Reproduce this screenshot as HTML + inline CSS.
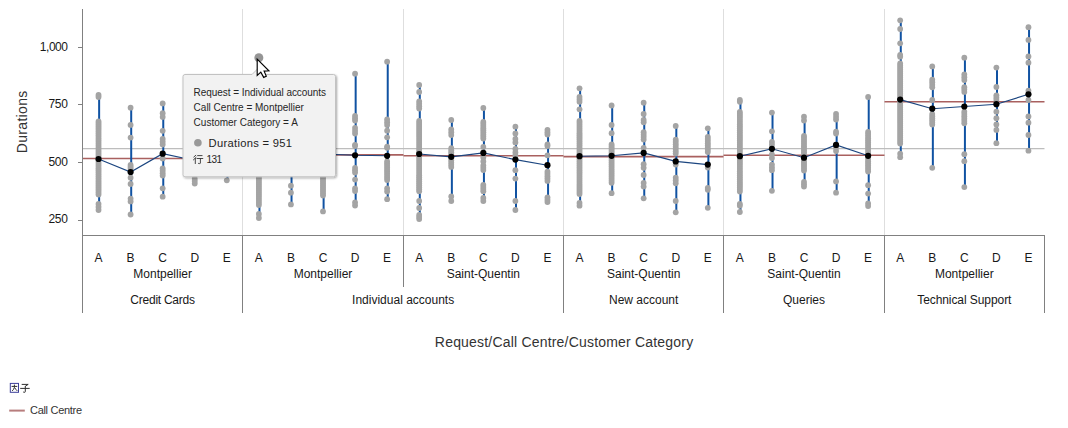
<!DOCTYPE html>
<html><head><meta charset="utf-8"><style>
html,body{margin:0;padding:0;background:#fff;}
body{width:1068px;height:428px;overflow:hidden;position:relative;font-family:"Liberation Sans",sans-serif;}
svg{position:absolute;left:0;top:0;}
.t12{font-family:"Liberation Sans",sans-serif;font-size:12px;fill:#181818;}
.t14{font-family:"Liberation Sans",sans-serif;font-size:14px;fill:#333;}
.t12b{font-family:"Liberation Sans",sans-serif;font-size:11.2px;fill:#222;}
.t11{font-family:"Liberation Sans",sans-serif;font-size:11px;fill:#333;}
.t10{font-family:"Liberation Sans",sans-serif;font-size:10px;fill:#262626;}
</style></head><body>
<svg width="1068" height="428" viewBox="0 0 1068 428">
<line x1="242.5" y1="9" x2="242.5" y2="235" stroke="#dedede" stroke-width="1"/>
<line x1="403.5" y1="9" x2="403.5" y2="235" stroke="#dedede" stroke-width="1"/>
<line x1="563.5" y1="9" x2="563.5" y2="235" stroke="#dedede" stroke-width="1"/>
<line x1="723.5" y1="9" x2="723.5" y2="235" stroke="#dedede" stroke-width="1"/>
<line x1="884.5" y1="9" x2="884.5" y2="235" stroke="#dedede" stroke-width="1"/>
<line x1="82.5" y1="148.6" x2="1044.48" y2="148.6" stroke="#bdbdbd" stroke-width="1.3"/>
<line x1="82.5" y1="158.5" x2="242.5" y2="158.5" stroke="#a9605f" stroke-width="1.6"/>
<line x1="242.5" y1="154.9" x2="403.5" y2="154.9" stroke="#a9605f" stroke-width="1.6"/>
<line x1="403.5" y1="155.8" x2="563.5" y2="155.8" stroke="#a9605f" stroke-width="1.6"/>
<line x1="563.5" y1="156.6" x2="723.5" y2="156.6" stroke="#a9605f" stroke-width="1.6"/>
<line x1="723.5" y1="155.3" x2="884.5" y2="155.3" stroke="#a9605f" stroke-width="1.6"/>
<line x1="884.5" y1="101.8" x2="1044.5" y2="101.8" stroke="#a9605f" stroke-width="1.6"/>
<line x1="99.13" y1="95.0" x2="99.13" y2="210.0" stroke="#1052a2" stroke-width="2"/>
<circle cx="98.53" cy="95.0" r="2.9" fill="#a4a4a4"/>
<circle cx="98.53" cy="97.0" r="2.9" fill="#a4a4a4"/>
<circle cx="98.53" cy="121.4" r="2.9" fill="#a4a4a4"/>
<circle cx="98.53" cy="123.4" r="2.9" fill="#a4a4a4"/>
<circle cx="98.53" cy="125.5" r="2.9" fill="#a4a4a4"/>
<circle cx="98.53" cy="127.5" r="2.9" fill="#a4a4a4"/>
<circle cx="98.53" cy="129.5" r="2.9" fill="#a4a4a4"/>
<circle cx="98.53" cy="131.6" r="2.9" fill="#a4a4a4"/>
<circle cx="98.53" cy="133.6" r="2.9" fill="#a4a4a4"/>
<circle cx="98.53" cy="135.6" r="2.9" fill="#a4a4a4"/>
<circle cx="98.53" cy="137.7" r="2.9" fill="#a4a4a4"/>
<circle cx="98.53" cy="139.7" r="2.9" fill="#a4a4a4"/>
<circle cx="98.53" cy="141.7" r="2.9" fill="#a4a4a4"/>
<circle cx="98.53" cy="143.8" r="2.9" fill="#a4a4a4"/>
<circle cx="98.53" cy="145.8" r="2.9" fill="#a4a4a4"/>
<circle cx="98.53" cy="147.8" r="2.9" fill="#a4a4a4"/>
<circle cx="98.53" cy="149.9" r="2.9" fill="#a4a4a4"/>
<circle cx="98.53" cy="151.9" r="2.9" fill="#a4a4a4"/>
<circle cx="98.53" cy="153.9" r="2.9" fill="#a4a4a4"/>
<circle cx="98.53" cy="156.0" r="2.9" fill="#a4a4a4"/>
<circle cx="98.53" cy="158.0" r="2.9" fill="#a4a4a4"/>
<circle cx="98.53" cy="160.0" r="2.9" fill="#a4a4a4"/>
<circle cx="98.53" cy="162.1" r="2.9" fill="#a4a4a4"/>
<circle cx="98.53" cy="164.1" r="2.9" fill="#a4a4a4"/>
<circle cx="98.53" cy="166.1" r="2.9" fill="#a4a4a4"/>
<circle cx="98.53" cy="168.2" r="2.9" fill="#a4a4a4"/>
<circle cx="98.53" cy="170.2" r="2.9" fill="#a4a4a4"/>
<circle cx="98.53" cy="172.2" r="2.9" fill="#a4a4a4"/>
<circle cx="98.53" cy="174.3" r="2.9" fill="#a4a4a4"/>
<circle cx="98.53" cy="176.3" r="2.9" fill="#a4a4a4"/>
<circle cx="98.53" cy="178.3" r="2.9" fill="#a4a4a4"/>
<circle cx="98.53" cy="180.4" r="2.9" fill="#a4a4a4"/>
<circle cx="98.53" cy="182.4" r="2.9" fill="#a4a4a4"/>
<circle cx="98.53" cy="184.4" r="2.9" fill="#a4a4a4"/>
<circle cx="98.53" cy="186.5" r="2.9" fill="#a4a4a4"/>
<circle cx="98.53" cy="188.5" r="2.9" fill="#a4a4a4"/>
<circle cx="98.53" cy="190.5" r="2.9" fill="#a4a4a4"/>
<circle cx="98.53" cy="192.6" r="2.9" fill="#a4a4a4"/>
<circle cx="98.53" cy="194.6" r="2.9" fill="#a4a4a4"/>
<circle cx="98.53" cy="204.0" r="2.9" fill="#a4a4a4"/>
<circle cx="98.53" cy="207.0" r="2.9" fill="#a4a4a4"/>
<circle cx="98.53" cy="210.0" r="2.9" fill="#a4a4a4"/>
<line x1="131.20" y1="107.7" x2="131.20" y2="214.5" stroke="#1052a2" stroke-width="2"/>
<circle cx="130.60" cy="107.7" r="2.9" fill="#a4a4a4"/>
<circle cx="130.60" cy="124.9" r="2.9" fill="#a4a4a4"/>
<circle cx="130.60" cy="137.6" r="2.9" fill="#a4a4a4"/>
<circle cx="130.60" cy="165.0" r="2.9" fill="#a4a4a4"/>
<circle cx="130.60" cy="167.0" r="2.9" fill="#a4a4a4"/>
<circle cx="130.60" cy="169.0" r="2.9" fill="#a4a4a4"/>
<circle cx="130.60" cy="177.7" r="2.9" fill="#a4a4a4"/>
<circle cx="130.60" cy="184.0" r="2.9" fill="#a4a4a4"/>
<circle cx="130.60" cy="198.6" r="2.9" fill="#a4a4a4"/>
<circle cx="130.60" cy="201.4" r="2.9" fill="#a4a4a4"/>
<circle cx="130.60" cy="214.5" r="2.9" fill="#a4a4a4"/>
<line x1="163.27" y1="103.4" x2="163.27" y2="196.7" stroke="#1052a2" stroke-width="2"/>
<circle cx="162.67" cy="103.4" r="2.9" fill="#a4a4a4"/>
<circle cx="162.67" cy="113.2" r="2.9" fill="#a4a4a4"/>
<circle cx="162.67" cy="116.9" r="2.9" fill="#a4a4a4"/>
<circle cx="162.67" cy="130.8" r="2.9" fill="#a4a4a4"/>
<circle cx="162.67" cy="139.0" r="2.9" fill="#a4a4a4"/>
<circle cx="162.67" cy="141.8" r="2.9" fill="#a4a4a4"/>
<circle cx="162.67" cy="144.5" r="2.9" fill="#a4a4a4"/>
<circle cx="162.67" cy="158.4" r="2.9" fill="#a4a4a4"/>
<circle cx="162.67" cy="168.4" r="2.9" fill="#a4a4a4"/>
<circle cx="162.67" cy="170.8" r="2.9" fill="#a4a4a4"/>
<circle cx="162.67" cy="173.2" r="2.9" fill="#a4a4a4"/>
<circle cx="162.67" cy="175.6" r="2.9" fill="#a4a4a4"/>
<circle cx="162.67" cy="188.3" r="2.9" fill="#a4a4a4"/>
<circle cx="162.67" cy="196.7" r="2.9" fill="#a4a4a4"/>
<line x1="195.33" y1="122.4" x2="195.33" y2="183.6" stroke="#1052a2" stroke-width="2"/>
<circle cx="194.73" cy="122.4" r="2.9" fill="#a4a4a4"/>
<circle cx="194.73" cy="124.5" r="2.9" fill="#a4a4a4"/>
<circle cx="194.73" cy="126.6" r="2.9" fill="#a4a4a4"/>
<circle cx="194.73" cy="128.7" r="2.9" fill="#a4a4a4"/>
<circle cx="194.73" cy="130.8" r="2.9" fill="#a4a4a4"/>
<circle cx="194.73" cy="132.9" r="2.9" fill="#a4a4a4"/>
<circle cx="194.73" cy="135.0" r="2.9" fill="#a4a4a4"/>
<circle cx="194.73" cy="137.1" r="2.9" fill="#a4a4a4"/>
<circle cx="194.73" cy="139.2" r="2.9" fill="#a4a4a4"/>
<circle cx="194.73" cy="141.3" r="2.9" fill="#a4a4a4"/>
<circle cx="194.73" cy="143.4" r="2.9" fill="#a4a4a4"/>
<circle cx="194.73" cy="145.5" r="2.9" fill="#a4a4a4"/>
<circle cx="194.73" cy="147.6" r="2.9" fill="#a4a4a4"/>
<circle cx="194.73" cy="178.7" r="2.9" fill="#a4a4a4"/>
<circle cx="194.73" cy="181.1" r="2.9" fill="#a4a4a4"/>
<circle cx="194.73" cy="183.6" r="2.9" fill="#a4a4a4"/>
<line x1="227.40" y1="142.4" x2="227.40" y2="180.3" stroke="#1052a2" stroke-width="2"/>
<circle cx="226.80" cy="142.4" r="2.9" fill="#a4a4a4"/>
<circle cx="226.80" cy="144.5" r="2.9" fill="#a4a4a4"/>
<circle cx="226.80" cy="146.6" r="2.9" fill="#a4a4a4"/>
<circle cx="226.80" cy="148.7" r="2.9" fill="#a4a4a4"/>
<circle cx="226.80" cy="150.8" r="2.9" fill="#a4a4a4"/>
<circle cx="226.80" cy="152.9" r="2.9" fill="#a4a4a4"/>
<circle cx="226.80" cy="155.0" r="2.9" fill="#a4a4a4"/>
<circle cx="226.80" cy="157.1" r="2.9" fill="#a4a4a4"/>
<circle cx="226.80" cy="159.2" r="2.9" fill="#a4a4a4"/>
<circle cx="226.80" cy="161.3" r="2.9" fill="#a4a4a4"/>
<circle cx="226.80" cy="163.4" r="2.9" fill="#a4a4a4"/>
<circle cx="226.80" cy="165.5" r="2.9" fill="#a4a4a4"/>
<circle cx="226.80" cy="167.6" r="2.9" fill="#a4a4a4"/>
<circle cx="226.80" cy="180.3" r="2.9" fill="#a4a4a4"/>
<line x1="259.46" y1="102.4" x2="259.46" y2="218.0" stroke="#1052a2" stroke-width="2"/>
<circle cx="258.86" cy="102.4" r="2.9" fill="#a4a4a4"/>
<circle cx="258.86" cy="104.4" r="2.9" fill="#a4a4a4"/>
<circle cx="258.86" cy="106.4" r="2.9" fill="#a4a4a4"/>
<circle cx="258.86" cy="108.4" r="2.9" fill="#a4a4a4"/>
<circle cx="258.86" cy="110.5" r="2.9" fill="#a4a4a4"/>
<circle cx="258.86" cy="112.5" r="2.9" fill="#a4a4a4"/>
<circle cx="258.86" cy="114.5" r="2.9" fill="#a4a4a4"/>
<circle cx="258.86" cy="116.5" r="2.9" fill="#a4a4a4"/>
<circle cx="258.86" cy="118.5" r="2.9" fill="#a4a4a4"/>
<circle cx="258.86" cy="120.5" r="2.9" fill="#a4a4a4"/>
<circle cx="258.86" cy="122.5" r="2.9" fill="#a4a4a4"/>
<circle cx="258.86" cy="124.6" r="2.9" fill="#a4a4a4"/>
<circle cx="258.86" cy="126.6" r="2.9" fill="#a4a4a4"/>
<circle cx="258.86" cy="128.6" r="2.9" fill="#a4a4a4"/>
<circle cx="258.86" cy="130.6" r="2.9" fill="#a4a4a4"/>
<circle cx="258.86" cy="132.6" r="2.9" fill="#a4a4a4"/>
<circle cx="258.86" cy="134.6" r="2.9" fill="#a4a4a4"/>
<circle cx="258.86" cy="136.6" r="2.9" fill="#a4a4a4"/>
<circle cx="258.86" cy="138.6" r="2.9" fill="#a4a4a4"/>
<circle cx="258.86" cy="140.7" r="2.9" fill="#a4a4a4"/>
<circle cx="258.86" cy="142.7" r="2.9" fill="#a4a4a4"/>
<circle cx="258.86" cy="144.7" r="2.9" fill="#a4a4a4"/>
<circle cx="258.86" cy="146.7" r="2.9" fill="#a4a4a4"/>
<circle cx="258.86" cy="148.7" r="2.9" fill="#a4a4a4"/>
<circle cx="258.86" cy="150.7" r="2.9" fill="#a4a4a4"/>
<circle cx="258.86" cy="152.7" r="2.9" fill="#a4a4a4"/>
<circle cx="258.86" cy="154.8" r="2.9" fill="#a4a4a4"/>
<circle cx="258.86" cy="156.8" r="2.9" fill="#a4a4a4"/>
<circle cx="258.86" cy="158.8" r="2.9" fill="#a4a4a4"/>
<circle cx="258.86" cy="160.8" r="2.9" fill="#a4a4a4"/>
<circle cx="258.86" cy="162.8" r="2.9" fill="#a4a4a4"/>
<circle cx="258.86" cy="164.8" r="2.9" fill="#a4a4a4"/>
<circle cx="258.86" cy="166.8" r="2.9" fill="#a4a4a4"/>
<circle cx="258.86" cy="168.9" r="2.9" fill="#a4a4a4"/>
<circle cx="258.86" cy="170.9" r="2.9" fill="#a4a4a4"/>
<circle cx="258.86" cy="172.9" r="2.9" fill="#a4a4a4"/>
<circle cx="258.86" cy="174.9" r="2.9" fill="#a4a4a4"/>
<circle cx="258.86" cy="176.9" r="2.9" fill="#a4a4a4"/>
<circle cx="258.86" cy="178.9" r="2.9" fill="#a4a4a4"/>
<circle cx="258.86" cy="180.9" r="2.9" fill="#a4a4a4"/>
<circle cx="258.86" cy="182.9" r="2.9" fill="#a4a4a4"/>
<circle cx="258.86" cy="185.0" r="2.9" fill="#a4a4a4"/>
<circle cx="258.86" cy="187.0" r="2.9" fill="#a4a4a4"/>
<circle cx="258.86" cy="189.0" r="2.9" fill="#a4a4a4"/>
<circle cx="258.86" cy="191.0" r="2.9" fill="#a4a4a4"/>
<circle cx="258.86" cy="193.0" r="2.9" fill="#a4a4a4"/>
<circle cx="258.86" cy="195.0" r="2.9" fill="#a4a4a4"/>
<circle cx="258.86" cy="197.0" r="2.9" fill="#a4a4a4"/>
<circle cx="258.86" cy="199.1" r="2.9" fill="#a4a4a4"/>
<circle cx="258.86" cy="201.1" r="2.9" fill="#a4a4a4"/>
<circle cx="258.86" cy="203.1" r="2.9" fill="#a4a4a4"/>
<circle cx="258.86" cy="205.1" r="2.9" fill="#a4a4a4"/>
<circle cx="258.86" cy="214.0" r="2.9" fill="#a4a4a4"/>
<circle cx="258.86" cy="218.0" r="2.9" fill="#a4a4a4"/>
<line x1="291.53" y1="122.4" x2="291.53" y2="204.4" stroke="#1052a2" stroke-width="2"/>
<circle cx="290.93" cy="122.4" r="2.9" fill="#a4a4a4"/>
<circle cx="290.93" cy="124.5" r="2.9" fill="#a4a4a4"/>
<circle cx="290.93" cy="126.5" r="2.9" fill="#a4a4a4"/>
<circle cx="290.93" cy="128.6" r="2.9" fill="#a4a4a4"/>
<circle cx="290.93" cy="130.6" r="2.9" fill="#a4a4a4"/>
<circle cx="290.93" cy="132.7" r="2.9" fill="#a4a4a4"/>
<circle cx="290.93" cy="134.7" r="2.9" fill="#a4a4a4"/>
<circle cx="290.93" cy="136.8" r="2.9" fill="#a4a4a4"/>
<circle cx="290.93" cy="138.8" r="2.9" fill="#a4a4a4"/>
<circle cx="290.93" cy="140.9" r="2.9" fill="#a4a4a4"/>
<circle cx="290.93" cy="142.9" r="2.9" fill="#a4a4a4"/>
<circle cx="290.93" cy="145.0" r="2.9" fill="#a4a4a4"/>
<circle cx="290.93" cy="147.1" r="2.9" fill="#a4a4a4"/>
<circle cx="290.93" cy="149.1" r="2.9" fill="#a4a4a4"/>
<circle cx="290.93" cy="151.2" r="2.9" fill="#a4a4a4"/>
<circle cx="290.93" cy="153.2" r="2.9" fill="#a4a4a4"/>
<circle cx="290.93" cy="155.3" r="2.9" fill="#a4a4a4"/>
<circle cx="290.93" cy="157.3" r="2.9" fill="#a4a4a4"/>
<circle cx="290.93" cy="159.4" r="2.9" fill="#a4a4a4"/>
<circle cx="290.93" cy="161.4" r="2.9" fill="#a4a4a4"/>
<circle cx="290.93" cy="163.5" r="2.9" fill="#a4a4a4"/>
<circle cx="290.93" cy="165.5" r="2.9" fill="#a4a4a4"/>
<circle cx="290.93" cy="167.6" r="2.9" fill="#a4a4a4"/>
<circle cx="290.93" cy="185.7" r="2.9" fill="#a4a4a4"/>
<circle cx="290.93" cy="192.7" r="2.9" fill="#a4a4a4"/>
<circle cx="290.93" cy="204.4" r="2.9" fill="#a4a4a4"/>
<line x1="323.60" y1="112.4" x2="323.60" y2="211.4" stroke="#1052a2" stroke-width="2"/>
<circle cx="323.00" cy="112.4" r="2.9" fill="#a4a4a4"/>
<circle cx="323.00" cy="114.4" r="2.9" fill="#a4a4a4"/>
<circle cx="323.00" cy="116.5" r="2.9" fill="#a4a4a4"/>
<circle cx="323.00" cy="118.5" r="2.9" fill="#a4a4a4"/>
<circle cx="323.00" cy="120.5" r="2.9" fill="#a4a4a4"/>
<circle cx="323.00" cy="122.5" r="2.9" fill="#a4a4a4"/>
<circle cx="323.00" cy="124.6" r="2.9" fill="#a4a4a4"/>
<circle cx="323.00" cy="126.6" r="2.9" fill="#a4a4a4"/>
<circle cx="323.00" cy="128.6" r="2.9" fill="#a4a4a4"/>
<circle cx="323.00" cy="130.7" r="2.9" fill="#a4a4a4"/>
<circle cx="323.00" cy="132.7" r="2.9" fill="#a4a4a4"/>
<circle cx="323.00" cy="134.7" r="2.9" fill="#a4a4a4"/>
<circle cx="323.00" cy="136.8" r="2.9" fill="#a4a4a4"/>
<circle cx="323.00" cy="138.8" r="2.9" fill="#a4a4a4"/>
<circle cx="323.00" cy="140.8" r="2.9" fill="#a4a4a4"/>
<circle cx="323.00" cy="142.8" r="2.9" fill="#a4a4a4"/>
<circle cx="323.00" cy="144.9" r="2.9" fill="#a4a4a4"/>
<circle cx="323.00" cy="146.9" r="2.9" fill="#a4a4a4"/>
<circle cx="323.00" cy="148.9" r="2.9" fill="#a4a4a4"/>
<circle cx="323.00" cy="151.0" r="2.9" fill="#a4a4a4"/>
<circle cx="323.00" cy="153.0" r="2.9" fill="#a4a4a4"/>
<circle cx="323.00" cy="155.0" r="2.9" fill="#a4a4a4"/>
<circle cx="323.00" cy="157.0" r="2.9" fill="#a4a4a4"/>
<circle cx="323.00" cy="159.1" r="2.9" fill="#a4a4a4"/>
<circle cx="323.00" cy="161.1" r="2.9" fill="#a4a4a4"/>
<circle cx="323.00" cy="163.1" r="2.9" fill="#a4a4a4"/>
<circle cx="323.00" cy="165.2" r="2.9" fill="#a4a4a4"/>
<circle cx="323.00" cy="167.2" r="2.9" fill="#a4a4a4"/>
<circle cx="323.00" cy="169.2" r="2.9" fill="#a4a4a4"/>
<circle cx="323.00" cy="171.2" r="2.9" fill="#a4a4a4"/>
<circle cx="323.00" cy="173.3" r="2.9" fill="#a4a4a4"/>
<circle cx="323.00" cy="175.3" r="2.9" fill="#a4a4a4"/>
<circle cx="323.00" cy="177.3" r="2.9" fill="#a4a4a4"/>
<circle cx="323.00" cy="179.4" r="2.9" fill="#a4a4a4"/>
<circle cx="323.00" cy="181.4" r="2.9" fill="#a4a4a4"/>
<circle cx="323.00" cy="183.4" r="2.9" fill="#a4a4a4"/>
<circle cx="323.00" cy="185.5" r="2.9" fill="#a4a4a4"/>
<circle cx="323.00" cy="187.5" r="2.9" fill="#a4a4a4"/>
<circle cx="323.00" cy="189.5" r="2.9" fill="#a4a4a4"/>
<circle cx="323.00" cy="191.5" r="2.9" fill="#a4a4a4"/>
<circle cx="323.00" cy="193.6" r="2.9" fill="#a4a4a4"/>
<circle cx="323.00" cy="195.6" r="2.9" fill="#a4a4a4"/>
<circle cx="323.00" cy="211.4" r="2.9" fill="#a4a4a4"/>
<line x1="355.66" y1="73.7" x2="355.66" y2="205.5" stroke="#1052a2" stroke-width="2"/>
<circle cx="355.06" cy="73.7" r="2.9" fill="#a4a4a4"/>
<circle cx="355.06" cy="115.8" r="2.9" fill="#a4a4a4"/>
<circle cx="355.06" cy="118.2" r="2.9" fill="#a4a4a4"/>
<circle cx="355.06" cy="120.5" r="2.9" fill="#a4a4a4"/>
<circle cx="355.06" cy="128.0" r="2.9" fill="#a4a4a4"/>
<circle cx="355.06" cy="130.8" r="2.9" fill="#a4a4a4"/>
<circle cx="355.06" cy="133.5" r="2.9" fill="#a4a4a4"/>
<circle cx="355.06" cy="144.8" r="2.9" fill="#a4a4a4"/>
<circle cx="355.06" cy="146.0" r="2.9" fill="#a4a4a4"/>
<circle cx="355.06" cy="168.0" r="2.9" fill="#a4a4a4"/>
<circle cx="355.06" cy="170.3" r="2.9" fill="#a4a4a4"/>
<circle cx="355.06" cy="172.6" r="2.9" fill="#a4a4a4"/>
<circle cx="355.06" cy="179.6" r="2.9" fill="#a4a4a4"/>
<circle cx="355.06" cy="188.5" r="2.9" fill="#a4a4a4"/>
<circle cx="355.06" cy="191.0" r="2.9" fill="#a4a4a4"/>
<circle cx="355.06" cy="202.5" r="2.9" fill="#a4a4a4"/>
<circle cx="355.06" cy="205.5" r="2.9" fill="#a4a4a4"/>
<line x1="387.73" y1="61.7" x2="387.73" y2="199.2" stroke="#1052a2" stroke-width="2"/>
<circle cx="387.13" cy="61.7" r="2.9" fill="#a4a4a4"/>
<circle cx="387.13" cy="119.5" r="2.9" fill="#a4a4a4"/>
<circle cx="387.13" cy="122.2" r="2.9" fill="#a4a4a4"/>
<circle cx="387.13" cy="125.0" r="2.9" fill="#a4a4a4"/>
<circle cx="387.13" cy="130.7" r="2.9" fill="#a4a4a4"/>
<circle cx="387.13" cy="137.3" r="2.9" fill="#a4a4a4"/>
<circle cx="387.13" cy="146.6" r="2.9" fill="#a4a4a4"/>
<circle cx="387.13" cy="147.8" r="2.9" fill="#a4a4a4"/>
<circle cx="387.13" cy="161.4" r="2.9" fill="#a4a4a4"/>
<circle cx="387.13" cy="163.5" r="2.9" fill="#a4a4a4"/>
<circle cx="387.13" cy="165.5" r="2.9" fill="#a4a4a4"/>
<circle cx="387.13" cy="167.6" r="2.9" fill="#a4a4a4"/>
<circle cx="387.13" cy="169.7" r="2.9" fill="#a4a4a4"/>
<circle cx="387.13" cy="171.7" r="2.9" fill="#a4a4a4"/>
<circle cx="387.13" cy="173.8" r="2.9" fill="#a4a4a4"/>
<circle cx="387.13" cy="175.9" r="2.9" fill="#a4a4a4"/>
<circle cx="387.13" cy="177.9" r="2.9" fill="#a4a4a4"/>
<circle cx="387.13" cy="180.0" r="2.9" fill="#a4a4a4"/>
<circle cx="387.13" cy="188.5" r="2.9" fill="#a4a4a4"/>
<circle cx="387.13" cy="191.5" r="2.9" fill="#a4a4a4"/>
<circle cx="387.13" cy="199.2" r="2.9" fill="#a4a4a4"/>
<line x1="419.79" y1="85.0" x2="419.79" y2="219.0" stroke="#1052a2" stroke-width="2"/>
<circle cx="419.19" cy="85.0" r="2.9" fill="#a4a4a4"/>
<circle cx="419.19" cy="92.0" r="2.9" fill="#a4a4a4"/>
<circle cx="419.19" cy="101.4" r="2.9" fill="#a4a4a4"/>
<circle cx="419.19" cy="103.8" r="2.9" fill="#a4a4a4"/>
<circle cx="419.19" cy="106.2" r="2.9" fill="#a4a4a4"/>
<circle cx="419.19" cy="108.6" r="2.9" fill="#a4a4a4"/>
<circle cx="419.19" cy="121.0" r="2.9" fill="#a4a4a4"/>
<circle cx="419.19" cy="123.0" r="2.9" fill="#a4a4a4"/>
<circle cx="419.19" cy="125.0" r="2.9" fill="#a4a4a4"/>
<circle cx="419.19" cy="127.0" r="2.9" fill="#a4a4a4"/>
<circle cx="419.19" cy="129.0" r="2.9" fill="#a4a4a4"/>
<circle cx="419.19" cy="131.0" r="2.9" fill="#a4a4a4"/>
<circle cx="419.19" cy="133.0" r="2.9" fill="#a4a4a4"/>
<circle cx="419.19" cy="135.0" r="2.9" fill="#a4a4a4"/>
<circle cx="419.19" cy="137.0" r="2.9" fill="#a4a4a4"/>
<circle cx="419.19" cy="139.1" r="2.9" fill="#a4a4a4"/>
<circle cx="419.19" cy="141.1" r="2.9" fill="#a4a4a4"/>
<circle cx="419.19" cy="143.1" r="2.9" fill="#a4a4a4"/>
<circle cx="419.19" cy="145.1" r="2.9" fill="#a4a4a4"/>
<circle cx="419.19" cy="147.1" r="2.9" fill="#a4a4a4"/>
<circle cx="419.19" cy="149.1" r="2.9" fill="#a4a4a4"/>
<circle cx="419.19" cy="151.1" r="2.9" fill="#a4a4a4"/>
<circle cx="419.19" cy="153.1" r="2.9" fill="#a4a4a4"/>
<circle cx="419.19" cy="155.1" r="2.9" fill="#a4a4a4"/>
<circle cx="419.19" cy="157.1" r="2.9" fill="#a4a4a4"/>
<circle cx="419.19" cy="159.1" r="2.9" fill="#a4a4a4"/>
<circle cx="419.19" cy="161.1" r="2.9" fill="#a4a4a4"/>
<circle cx="419.19" cy="163.1" r="2.9" fill="#a4a4a4"/>
<circle cx="419.19" cy="165.1" r="2.9" fill="#a4a4a4"/>
<circle cx="419.19" cy="167.1" r="2.9" fill="#a4a4a4"/>
<circle cx="419.19" cy="169.1" r="2.9" fill="#a4a4a4"/>
<circle cx="419.19" cy="171.1" r="2.9" fill="#a4a4a4"/>
<circle cx="419.19" cy="173.1" r="2.9" fill="#a4a4a4"/>
<circle cx="419.19" cy="175.2" r="2.9" fill="#a4a4a4"/>
<circle cx="419.19" cy="177.2" r="2.9" fill="#a4a4a4"/>
<circle cx="419.19" cy="179.2" r="2.9" fill="#a4a4a4"/>
<circle cx="419.19" cy="181.2" r="2.9" fill="#a4a4a4"/>
<circle cx="419.19" cy="183.2" r="2.9" fill="#a4a4a4"/>
<circle cx="419.19" cy="185.2" r="2.9" fill="#a4a4a4"/>
<circle cx="419.19" cy="187.2" r="2.9" fill="#a4a4a4"/>
<circle cx="419.19" cy="189.2" r="2.9" fill="#a4a4a4"/>
<circle cx="419.19" cy="191.2" r="2.9" fill="#a4a4a4"/>
<circle cx="419.19" cy="201.0" r="2.9" fill="#a4a4a4"/>
<circle cx="419.19" cy="208.0" r="2.9" fill="#a4a4a4"/>
<circle cx="419.19" cy="215.0" r="2.9" fill="#a4a4a4"/>
<circle cx="419.19" cy="217.0" r="2.9" fill="#a4a4a4"/>
<circle cx="419.19" cy="219.0" r="2.9" fill="#a4a4a4"/>
<line x1="451.86" y1="120.0" x2="451.86" y2="201.0" stroke="#1052a2" stroke-width="2"/>
<circle cx="451.26" cy="120.0" r="2.9" fill="#a4a4a4"/>
<circle cx="451.26" cy="129.4" r="2.9" fill="#a4a4a4"/>
<circle cx="451.26" cy="132.2" r="2.9" fill="#a4a4a4"/>
<circle cx="451.26" cy="135.0" r="2.9" fill="#a4a4a4"/>
<circle cx="451.26" cy="148.1" r="2.9" fill="#a4a4a4"/>
<circle cx="451.26" cy="150.2" r="2.9" fill="#a4a4a4"/>
<circle cx="451.26" cy="152.3" r="2.9" fill="#a4a4a4"/>
<circle cx="451.26" cy="154.4" r="2.9" fill="#a4a4a4"/>
<circle cx="451.26" cy="156.5" r="2.9" fill="#a4a4a4"/>
<circle cx="451.26" cy="158.5" r="2.9" fill="#a4a4a4"/>
<circle cx="451.26" cy="160.6" r="2.9" fill="#a4a4a4"/>
<circle cx="451.26" cy="162.7" r="2.9" fill="#a4a4a4"/>
<circle cx="451.26" cy="164.8" r="2.9" fill="#a4a4a4"/>
<circle cx="451.26" cy="166.9" r="2.9" fill="#a4a4a4"/>
<circle cx="451.26" cy="196.4" r="2.9" fill="#a4a4a4"/>
<circle cx="451.26" cy="201.0" r="2.9" fill="#a4a4a4"/>
<line x1="483.93" y1="108.0" x2="483.93" y2="201.0" stroke="#1052a2" stroke-width="2"/>
<circle cx="483.33" cy="108.0" r="2.9" fill="#a4a4a4"/>
<circle cx="483.33" cy="121.9" r="2.9" fill="#a4a4a4"/>
<circle cx="483.33" cy="124.0" r="2.9" fill="#a4a4a4"/>
<circle cx="483.33" cy="126.1" r="2.9" fill="#a4a4a4"/>
<circle cx="483.33" cy="128.2" r="2.9" fill="#a4a4a4"/>
<circle cx="483.33" cy="130.2" r="2.9" fill="#a4a4a4"/>
<circle cx="483.33" cy="132.3" r="2.9" fill="#a4a4a4"/>
<circle cx="483.33" cy="134.4" r="2.9" fill="#a4a4a4"/>
<circle cx="483.33" cy="136.5" r="2.9" fill="#a4a4a4"/>
<circle cx="483.33" cy="138.6" r="2.9" fill="#a4a4a4"/>
<circle cx="483.33" cy="147.0" r="2.9" fill="#a4a4a4"/>
<circle cx="483.33" cy="157.5" r="2.9" fill="#a4a4a4"/>
<circle cx="483.33" cy="161.5" r="2.9" fill="#a4a4a4"/>
<circle cx="483.33" cy="165.4" r="2.9" fill="#a4a4a4"/>
<circle cx="483.33" cy="167.8" r="2.9" fill="#a4a4a4"/>
<circle cx="483.33" cy="170.1" r="2.9" fill="#a4a4a4"/>
<circle cx="483.33" cy="184.8" r="2.9" fill="#a4a4a4"/>
<circle cx="483.33" cy="186.9" r="2.9" fill="#a4a4a4"/>
<circle cx="483.33" cy="189.1" r="2.9" fill="#a4a4a4"/>
<circle cx="483.33" cy="191.2" r="2.9" fill="#a4a4a4"/>
<circle cx="483.33" cy="198.0" r="2.9" fill="#a4a4a4"/>
<circle cx="483.33" cy="201.0" r="2.9" fill="#a4a4a4"/>
<line x1="515.99" y1="126.7" x2="515.99" y2="210.0" stroke="#1052a2" stroke-width="2"/>
<circle cx="515.39" cy="126.7" r="2.9" fill="#a4a4a4"/>
<circle cx="515.39" cy="133.5" r="2.9" fill="#a4a4a4"/>
<circle cx="515.39" cy="139.0" r="2.9" fill="#a4a4a4"/>
<circle cx="515.39" cy="142.5" r="2.9" fill="#a4a4a4"/>
<circle cx="515.39" cy="149.0" r="2.9" fill="#a4a4a4"/>
<circle cx="515.39" cy="152.5" r="2.9" fill="#a4a4a4"/>
<circle cx="515.39" cy="155.5" r="2.9" fill="#a4a4a4"/>
<circle cx="515.39" cy="170.2" r="2.9" fill="#a4a4a4"/>
<circle cx="515.39" cy="178.6" r="2.9" fill="#a4a4a4"/>
<circle cx="515.39" cy="201.0" r="2.9" fill="#a4a4a4"/>
<circle cx="515.39" cy="210.0" r="2.9" fill="#a4a4a4"/>
<line x1="548.06" y1="129.8" x2="548.06" y2="202.0" stroke="#1052a2" stroke-width="2"/>
<circle cx="547.46" cy="129.8" r="2.9" fill="#a4a4a4"/>
<circle cx="547.46" cy="132.2" r="2.9" fill="#a4a4a4"/>
<circle cx="547.46" cy="134.5" r="2.9" fill="#a4a4a4"/>
<circle cx="547.46" cy="144.4" r="2.9" fill="#a4a4a4"/>
<circle cx="547.46" cy="146.1" r="2.9" fill="#a4a4a4"/>
<circle cx="547.46" cy="155.3" r="2.9" fill="#a4a4a4"/>
<circle cx="547.46" cy="171.7" r="2.9" fill="#a4a4a4"/>
<circle cx="547.46" cy="174.0" r="2.9" fill="#a4a4a4"/>
<circle cx="547.46" cy="176.3" r="2.9" fill="#a4a4a4"/>
<circle cx="547.46" cy="178.6" r="2.9" fill="#a4a4a4"/>
<circle cx="547.46" cy="180.9" r="2.9" fill="#a4a4a4"/>
<circle cx="547.46" cy="197.3" r="2.9" fill="#a4a4a4"/>
<circle cx="547.46" cy="199.7" r="2.9" fill="#a4a4a4"/>
<circle cx="547.46" cy="202.0" r="2.9" fill="#a4a4a4"/>
<line x1="580.12" y1="88.3" x2="580.12" y2="205.7" stroke="#1052a2" stroke-width="2"/>
<circle cx="579.52" cy="88.3" r="2.9" fill="#a4a4a4"/>
<circle cx="579.52" cy="97.0" r="2.9" fill="#a4a4a4"/>
<circle cx="579.52" cy="99.4" r="2.9" fill="#a4a4a4"/>
<circle cx="579.52" cy="101.8" r="2.9" fill="#a4a4a4"/>
<circle cx="579.52" cy="109.3" r="2.9" fill="#a4a4a4"/>
<circle cx="579.52" cy="121.0" r="2.9" fill="#a4a4a4"/>
<circle cx="579.52" cy="123.0" r="2.9" fill="#a4a4a4"/>
<circle cx="579.52" cy="125.1" r="2.9" fill="#a4a4a4"/>
<circle cx="579.52" cy="127.1" r="2.9" fill="#a4a4a4"/>
<circle cx="579.52" cy="129.1" r="2.9" fill="#a4a4a4"/>
<circle cx="579.52" cy="131.1" r="2.9" fill="#a4a4a4"/>
<circle cx="579.52" cy="133.2" r="2.9" fill="#a4a4a4"/>
<circle cx="579.52" cy="135.2" r="2.9" fill="#a4a4a4"/>
<circle cx="579.52" cy="137.2" r="2.9" fill="#a4a4a4"/>
<circle cx="579.52" cy="139.2" r="2.9" fill="#a4a4a4"/>
<circle cx="579.52" cy="141.3" r="2.9" fill="#a4a4a4"/>
<circle cx="579.52" cy="143.3" r="2.9" fill="#a4a4a4"/>
<circle cx="579.52" cy="145.3" r="2.9" fill="#a4a4a4"/>
<circle cx="579.52" cy="147.4" r="2.9" fill="#a4a4a4"/>
<circle cx="579.52" cy="149.4" r="2.9" fill="#a4a4a4"/>
<circle cx="579.52" cy="151.4" r="2.9" fill="#a4a4a4"/>
<circle cx="579.52" cy="153.4" r="2.9" fill="#a4a4a4"/>
<circle cx="579.52" cy="155.5" r="2.9" fill="#a4a4a4"/>
<circle cx="579.52" cy="157.5" r="2.9" fill="#a4a4a4"/>
<circle cx="579.52" cy="159.5" r="2.9" fill="#a4a4a4"/>
<circle cx="579.52" cy="161.6" r="2.9" fill="#a4a4a4"/>
<circle cx="579.52" cy="163.6" r="2.9" fill="#a4a4a4"/>
<circle cx="579.52" cy="165.6" r="2.9" fill="#a4a4a4"/>
<circle cx="579.52" cy="167.6" r="2.9" fill="#a4a4a4"/>
<circle cx="579.52" cy="169.7" r="2.9" fill="#a4a4a4"/>
<circle cx="579.52" cy="171.7" r="2.9" fill="#a4a4a4"/>
<circle cx="579.52" cy="173.7" r="2.9" fill="#a4a4a4"/>
<circle cx="579.52" cy="175.8" r="2.9" fill="#a4a4a4"/>
<circle cx="579.52" cy="177.8" r="2.9" fill="#a4a4a4"/>
<circle cx="579.52" cy="179.8" r="2.9" fill="#a4a4a4"/>
<circle cx="579.52" cy="181.8" r="2.9" fill="#a4a4a4"/>
<circle cx="579.52" cy="183.9" r="2.9" fill="#a4a4a4"/>
<circle cx="579.52" cy="185.9" r="2.9" fill="#a4a4a4"/>
<circle cx="579.52" cy="187.9" r="2.9" fill="#a4a4a4"/>
<circle cx="579.52" cy="189.9" r="2.9" fill="#a4a4a4"/>
<circle cx="579.52" cy="192.0" r="2.9" fill="#a4a4a4"/>
<circle cx="579.52" cy="194.0" r="2.9" fill="#a4a4a4"/>
<circle cx="579.52" cy="203.0" r="2.9" fill="#a4a4a4"/>
<circle cx="579.52" cy="205.7" r="2.9" fill="#a4a4a4"/>
<line x1="612.19" y1="105.5" x2="612.19" y2="193.2" stroke="#1052a2" stroke-width="2"/>
<circle cx="611.59" cy="105.5" r="2.9" fill="#a4a4a4"/>
<circle cx="611.59" cy="125.0" r="2.9" fill="#a4a4a4"/>
<circle cx="611.59" cy="133.2" r="2.9" fill="#a4a4a4"/>
<circle cx="611.59" cy="144.4" r="2.9" fill="#a4a4a4"/>
<circle cx="611.59" cy="146.4" r="2.9" fill="#a4a4a4"/>
<circle cx="611.59" cy="148.4" r="2.9" fill="#a4a4a4"/>
<circle cx="611.59" cy="150.5" r="2.9" fill="#a4a4a4"/>
<circle cx="611.59" cy="152.5" r="2.9" fill="#a4a4a4"/>
<circle cx="611.59" cy="154.5" r="2.9" fill="#a4a4a4"/>
<circle cx="611.59" cy="156.5" r="2.9" fill="#a4a4a4"/>
<circle cx="611.59" cy="158.5" r="2.9" fill="#a4a4a4"/>
<circle cx="611.59" cy="160.6" r="2.9" fill="#a4a4a4"/>
<circle cx="611.59" cy="162.6" r="2.9" fill="#a4a4a4"/>
<circle cx="611.59" cy="164.6" r="2.9" fill="#a4a4a4"/>
<circle cx="611.59" cy="166.6" r="2.9" fill="#a4a4a4"/>
<circle cx="611.59" cy="168.7" r="2.9" fill="#a4a4a4"/>
<circle cx="611.59" cy="170.7" r="2.9" fill="#a4a4a4"/>
<circle cx="611.59" cy="172.7" r="2.9" fill="#a4a4a4"/>
<circle cx="611.59" cy="174.7" r="2.9" fill="#a4a4a4"/>
<circle cx="611.59" cy="176.7" r="2.9" fill="#a4a4a4"/>
<circle cx="611.59" cy="178.8" r="2.9" fill="#a4a4a4"/>
<circle cx="611.59" cy="180.8" r="2.9" fill="#a4a4a4"/>
<circle cx="611.59" cy="182.8" r="2.9" fill="#a4a4a4"/>
<circle cx="611.59" cy="193.2" r="2.9" fill="#a4a4a4"/>
<line x1="644.25" y1="102.7" x2="644.25" y2="198.3" stroke="#1052a2" stroke-width="2"/>
<circle cx="643.65" cy="102.7" r="2.9" fill="#a4a4a4"/>
<circle cx="643.65" cy="114.0" r="2.9" fill="#a4a4a4"/>
<circle cx="643.65" cy="120.0" r="2.9" fill="#a4a4a4"/>
<circle cx="643.65" cy="122.3" r="2.9" fill="#a4a4a4"/>
<circle cx="643.65" cy="132.2" r="2.9" fill="#a4a4a4"/>
<circle cx="643.65" cy="134.7" r="2.9" fill="#a4a4a4"/>
<circle cx="643.65" cy="137.1" r="2.9" fill="#a4a4a4"/>
<circle cx="643.65" cy="139.6" r="2.9" fill="#a4a4a4"/>
<circle cx="643.65" cy="147.8" r="2.9" fill="#a4a4a4"/>
<circle cx="643.65" cy="164.2" r="2.9" fill="#a4a4a4"/>
<circle cx="643.65" cy="167.8" r="2.9" fill="#a4a4a4"/>
<circle cx="643.65" cy="175.0" r="2.9" fill="#a4a4a4"/>
<circle cx="643.65" cy="182.9" r="2.9" fill="#a4a4a4"/>
<circle cx="643.65" cy="186.6" r="2.9" fill="#a4a4a4"/>
<circle cx="643.65" cy="198.3" r="2.9" fill="#a4a4a4"/>
<line x1="676.32" y1="126.0" x2="676.32" y2="212.3" stroke="#1052a2" stroke-width="2"/>
<circle cx="675.72" cy="126.0" r="2.9" fill="#a4a4a4"/>
<circle cx="675.72" cy="139.7" r="2.9" fill="#a4a4a4"/>
<circle cx="675.72" cy="142.0" r="2.9" fill="#a4a4a4"/>
<circle cx="675.72" cy="144.3" r="2.9" fill="#a4a4a4"/>
<circle cx="675.72" cy="146.7" r="2.9" fill="#a4a4a4"/>
<circle cx="675.72" cy="149.0" r="2.9" fill="#a4a4a4"/>
<circle cx="675.72" cy="151.3" r="2.9" fill="#a4a4a4"/>
<circle cx="675.72" cy="153.6" r="2.9" fill="#a4a4a4"/>
<circle cx="675.72" cy="164.6" r="2.9" fill="#a4a4a4"/>
<circle cx="675.72" cy="177.7" r="2.9" fill="#a4a4a4"/>
<circle cx="675.72" cy="180.5" r="2.9" fill="#a4a4a4"/>
<circle cx="675.72" cy="183.3" r="2.9" fill="#a4a4a4"/>
<circle cx="675.72" cy="201.0" r="2.9" fill="#a4a4a4"/>
<circle cx="675.72" cy="212.3" r="2.9" fill="#a4a4a4"/>
<line x1="708.39" y1="128.3" x2="708.39" y2="207.8" stroke="#1052a2" stroke-width="2"/>
<circle cx="707.79" cy="128.3" r="2.9" fill="#a4a4a4"/>
<circle cx="707.79" cy="136.8" r="2.9" fill="#a4a4a4"/>
<circle cx="707.79" cy="139.0" r="2.9" fill="#a4a4a4"/>
<circle cx="707.79" cy="141.1" r="2.9" fill="#a4a4a4"/>
<circle cx="707.79" cy="143.3" r="2.9" fill="#a4a4a4"/>
<circle cx="707.79" cy="145.5" r="2.9" fill="#a4a4a4"/>
<circle cx="707.79" cy="147.7" r="2.9" fill="#a4a4a4"/>
<circle cx="707.79" cy="149.8" r="2.9" fill="#a4a4a4"/>
<circle cx="707.79" cy="152.0" r="2.9" fill="#a4a4a4"/>
<circle cx="707.79" cy="167.6" r="2.9" fill="#a4a4a4"/>
<circle cx="707.79" cy="187.9" r="2.9" fill="#a4a4a4"/>
<circle cx="707.79" cy="189.8" r="2.9" fill="#a4a4a4"/>
<circle cx="707.79" cy="207.8" r="2.9" fill="#a4a4a4"/>
<line x1="740.45" y1="100.0" x2="740.45" y2="212.0" stroke="#1052a2" stroke-width="2"/>
<circle cx="739.85" cy="100.0" r="2.9" fill="#a4a4a4"/>
<circle cx="739.85" cy="101.8" r="2.9" fill="#a4a4a4"/>
<circle cx="739.85" cy="111.9" r="2.9" fill="#a4a4a4"/>
<circle cx="739.85" cy="113.9" r="2.9" fill="#a4a4a4"/>
<circle cx="739.85" cy="116.0" r="2.9" fill="#a4a4a4"/>
<circle cx="739.85" cy="118.0" r="2.9" fill="#a4a4a4"/>
<circle cx="739.85" cy="120.1" r="2.9" fill="#a4a4a4"/>
<circle cx="739.85" cy="122.1" r="2.9" fill="#a4a4a4"/>
<circle cx="739.85" cy="124.2" r="2.9" fill="#a4a4a4"/>
<circle cx="739.85" cy="126.2" r="2.9" fill="#a4a4a4"/>
<circle cx="739.85" cy="128.2" r="2.9" fill="#a4a4a4"/>
<circle cx="739.85" cy="130.3" r="2.9" fill="#a4a4a4"/>
<circle cx="739.85" cy="132.3" r="2.9" fill="#a4a4a4"/>
<circle cx="739.85" cy="134.4" r="2.9" fill="#a4a4a4"/>
<circle cx="739.85" cy="136.4" r="2.9" fill="#a4a4a4"/>
<circle cx="739.85" cy="138.5" r="2.9" fill="#a4a4a4"/>
<circle cx="739.85" cy="140.5" r="2.9" fill="#a4a4a4"/>
<circle cx="739.85" cy="142.6" r="2.9" fill="#a4a4a4"/>
<circle cx="739.85" cy="144.6" r="2.9" fill="#a4a4a4"/>
<circle cx="739.85" cy="146.6" r="2.9" fill="#a4a4a4"/>
<circle cx="739.85" cy="148.7" r="2.9" fill="#a4a4a4"/>
<circle cx="739.85" cy="150.7" r="2.9" fill="#a4a4a4"/>
<circle cx="739.85" cy="152.8" r="2.9" fill="#a4a4a4"/>
<circle cx="739.85" cy="154.8" r="2.9" fill="#a4a4a4"/>
<circle cx="739.85" cy="156.9" r="2.9" fill="#a4a4a4"/>
<circle cx="739.85" cy="158.9" r="2.9" fill="#a4a4a4"/>
<circle cx="739.85" cy="160.9" r="2.9" fill="#a4a4a4"/>
<circle cx="739.85" cy="163.0" r="2.9" fill="#a4a4a4"/>
<circle cx="739.85" cy="165.0" r="2.9" fill="#a4a4a4"/>
<circle cx="739.85" cy="167.1" r="2.9" fill="#a4a4a4"/>
<circle cx="739.85" cy="169.1" r="2.9" fill="#a4a4a4"/>
<circle cx="739.85" cy="171.2" r="2.9" fill="#a4a4a4"/>
<circle cx="739.85" cy="173.2" r="2.9" fill="#a4a4a4"/>
<circle cx="739.85" cy="175.3" r="2.9" fill="#a4a4a4"/>
<circle cx="739.85" cy="177.3" r="2.9" fill="#a4a4a4"/>
<circle cx="739.85" cy="179.3" r="2.9" fill="#a4a4a4"/>
<circle cx="739.85" cy="181.4" r="2.9" fill="#a4a4a4"/>
<circle cx="739.85" cy="183.4" r="2.9" fill="#a4a4a4"/>
<circle cx="739.85" cy="185.5" r="2.9" fill="#a4a4a4"/>
<circle cx="739.85" cy="187.5" r="2.9" fill="#a4a4a4"/>
<circle cx="739.85" cy="189.6" r="2.9" fill="#a4a4a4"/>
<circle cx="739.85" cy="191.6" r="2.9" fill="#a4a4a4"/>
<circle cx="739.85" cy="204.0" r="2.9" fill="#a4a4a4"/>
<circle cx="739.85" cy="205.7" r="2.9" fill="#a4a4a4"/>
<circle cx="739.85" cy="212.0" r="2.9" fill="#a4a4a4"/>
<line x1="772.52" y1="112.6" x2="772.52" y2="190.8" stroke="#1052a2" stroke-width="2"/>
<circle cx="771.92" cy="112.6" r="2.9" fill="#a4a4a4"/>
<circle cx="771.92" cy="131.3" r="2.9" fill="#a4a4a4"/>
<circle cx="771.92" cy="142.0" r="2.9" fill="#a4a4a4"/>
<circle cx="771.92" cy="144.8" r="2.9" fill="#a4a4a4"/>
<circle cx="771.92" cy="154.3" r="2.9" fill="#a4a4a4"/>
<circle cx="771.92" cy="158.0" r="2.9" fill="#a4a4a4"/>
<circle cx="771.92" cy="164.6" r="2.9" fill="#a4a4a4"/>
<circle cx="771.92" cy="167.4" r="2.9" fill="#a4a4a4"/>
<circle cx="771.92" cy="170.2" r="2.9" fill="#a4a4a4"/>
<circle cx="771.92" cy="190.8" r="2.9" fill="#a4a4a4"/>
<line x1="804.59" y1="116.7" x2="804.59" y2="186.6" stroke="#1052a2" stroke-width="2"/>
<circle cx="803.99" cy="116.7" r="2.9" fill="#a4a4a4"/>
<circle cx="803.99" cy="120.5" r="2.9" fill="#a4a4a4"/>
<circle cx="803.99" cy="136.0" r="2.9" fill="#a4a4a4"/>
<circle cx="803.99" cy="138.0" r="2.9" fill="#a4a4a4"/>
<circle cx="803.99" cy="140.1" r="2.9" fill="#a4a4a4"/>
<circle cx="803.99" cy="142.1" r="2.9" fill="#a4a4a4"/>
<circle cx="803.99" cy="144.1" r="2.9" fill="#a4a4a4"/>
<circle cx="803.99" cy="146.2" r="2.9" fill="#a4a4a4"/>
<circle cx="803.99" cy="148.2" r="2.9" fill="#a4a4a4"/>
<circle cx="803.99" cy="150.2" r="2.9" fill="#a4a4a4"/>
<circle cx="803.99" cy="152.3" r="2.9" fill="#a4a4a4"/>
<circle cx="803.99" cy="154.3" r="2.9" fill="#a4a4a4"/>
<circle cx="803.99" cy="156.4" r="2.9" fill="#a4a4a4"/>
<circle cx="803.99" cy="158.4" r="2.9" fill="#a4a4a4"/>
<circle cx="803.99" cy="160.4" r="2.9" fill="#a4a4a4"/>
<circle cx="803.99" cy="162.5" r="2.9" fill="#a4a4a4"/>
<circle cx="803.99" cy="164.5" r="2.9" fill="#a4a4a4"/>
<circle cx="803.99" cy="166.5" r="2.9" fill="#a4a4a4"/>
<circle cx="803.99" cy="168.6" r="2.9" fill="#a4a4a4"/>
<circle cx="803.99" cy="170.6" r="2.9" fill="#a4a4a4"/>
<circle cx="803.99" cy="182.0" r="2.9" fill="#a4a4a4"/>
<circle cx="803.99" cy="184.3" r="2.9" fill="#a4a4a4"/>
<circle cx="803.99" cy="186.6" r="2.9" fill="#a4a4a4"/>
<line x1="836.65" y1="114.0" x2="836.65" y2="192.7" stroke="#1052a2" stroke-width="2"/>
<circle cx="836.05" cy="114.0" r="2.9" fill="#a4a4a4"/>
<circle cx="836.05" cy="116.8" r="2.9" fill="#a4a4a4"/>
<circle cx="836.05" cy="119.5" r="2.9" fill="#a4a4a4"/>
<circle cx="836.05" cy="131.7" r="2.9" fill="#a4a4a4"/>
<circle cx="836.05" cy="133.6" r="2.9" fill="#a4a4a4"/>
<circle cx="836.05" cy="147.4" r="2.9" fill="#a4a4a4"/>
<circle cx="836.05" cy="151.0" r="2.9" fill="#a4a4a4"/>
<circle cx="836.05" cy="181.4" r="2.9" fill="#a4a4a4"/>
<circle cx="836.05" cy="192.7" r="2.9" fill="#a4a4a4"/>
<line x1="868.72" y1="97.0" x2="868.72" y2="206.1" stroke="#1052a2" stroke-width="2"/>
<circle cx="868.12" cy="97.0" r="2.9" fill="#a4a4a4"/>
<circle cx="868.12" cy="131.9" r="2.9" fill="#a4a4a4"/>
<circle cx="868.12" cy="134.0" r="2.9" fill="#a4a4a4"/>
<circle cx="868.12" cy="136.1" r="2.9" fill="#a4a4a4"/>
<circle cx="868.12" cy="138.2" r="2.9" fill="#a4a4a4"/>
<circle cx="868.12" cy="140.3" r="2.9" fill="#a4a4a4"/>
<circle cx="868.12" cy="142.3" r="2.9" fill="#a4a4a4"/>
<circle cx="868.12" cy="144.4" r="2.9" fill="#a4a4a4"/>
<circle cx="868.12" cy="146.5" r="2.9" fill="#a4a4a4"/>
<circle cx="868.12" cy="148.6" r="2.9" fill="#a4a4a4"/>
<circle cx="868.12" cy="150.7" r="2.9" fill="#a4a4a4"/>
<circle cx="868.12" cy="152.8" r="2.9" fill="#a4a4a4"/>
<circle cx="868.12" cy="154.9" r="2.9" fill="#a4a4a4"/>
<circle cx="868.12" cy="157.0" r="2.9" fill="#a4a4a4"/>
<circle cx="868.12" cy="159.1" r="2.9" fill="#a4a4a4"/>
<circle cx="868.12" cy="161.2" r="2.9" fill="#a4a4a4"/>
<circle cx="868.12" cy="163.2" r="2.9" fill="#a4a4a4"/>
<circle cx="868.12" cy="165.3" r="2.9" fill="#a4a4a4"/>
<circle cx="868.12" cy="167.4" r="2.9" fill="#a4a4a4"/>
<circle cx="868.12" cy="169.5" r="2.9" fill="#a4a4a4"/>
<circle cx="868.12" cy="171.6" r="2.9" fill="#a4a4a4"/>
<circle cx="868.12" cy="185.2" r="2.9" fill="#a4a4a4"/>
<circle cx="868.12" cy="193.6" r="2.9" fill="#a4a4a4"/>
<circle cx="868.12" cy="203.4" r="2.9" fill="#a4a4a4"/>
<circle cx="868.12" cy="206.1" r="2.9" fill="#a4a4a4"/>
<line x1="900.78" y1="20.3" x2="900.78" y2="157.2" stroke="#1052a2" stroke-width="2"/>
<circle cx="900.18" cy="20.3" r="2.9" fill="#a4a4a4"/>
<circle cx="900.18" cy="29.0" r="2.9" fill="#a4a4a4"/>
<circle cx="900.18" cy="43.3" r="2.9" fill="#a4a4a4"/>
<circle cx="900.18" cy="55.0" r="2.9" fill="#a4a4a4"/>
<circle cx="900.18" cy="56.7" r="2.9" fill="#a4a4a4"/>
<circle cx="900.18" cy="63.4" r="2.9" fill="#a4a4a4"/>
<circle cx="900.18" cy="65.4" r="2.9" fill="#a4a4a4"/>
<circle cx="900.18" cy="67.4" r="2.9" fill="#a4a4a4"/>
<circle cx="900.18" cy="69.4" r="2.9" fill="#a4a4a4"/>
<circle cx="900.18" cy="71.4" r="2.9" fill="#a4a4a4"/>
<circle cx="900.18" cy="73.4" r="2.9" fill="#a4a4a4"/>
<circle cx="900.18" cy="75.4" r="2.9" fill="#a4a4a4"/>
<circle cx="900.18" cy="77.4" r="2.9" fill="#a4a4a4"/>
<circle cx="900.18" cy="79.4" r="2.9" fill="#a4a4a4"/>
<circle cx="900.18" cy="81.4" r="2.9" fill="#a4a4a4"/>
<circle cx="900.18" cy="83.4" r="2.9" fill="#a4a4a4"/>
<circle cx="900.18" cy="85.5" r="2.9" fill="#a4a4a4"/>
<circle cx="900.18" cy="87.5" r="2.9" fill="#a4a4a4"/>
<circle cx="900.18" cy="89.5" r="2.9" fill="#a4a4a4"/>
<circle cx="900.18" cy="91.5" r="2.9" fill="#a4a4a4"/>
<circle cx="900.18" cy="93.5" r="2.9" fill="#a4a4a4"/>
<circle cx="900.18" cy="95.5" r="2.9" fill="#a4a4a4"/>
<circle cx="900.18" cy="97.5" r="2.9" fill="#a4a4a4"/>
<circle cx="900.18" cy="99.5" r="2.9" fill="#a4a4a4"/>
<circle cx="900.18" cy="101.5" r="2.9" fill="#a4a4a4"/>
<circle cx="900.18" cy="103.5" r="2.9" fill="#a4a4a4"/>
<circle cx="900.18" cy="105.5" r="2.9" fill="#a4a4a4"/>
<circle cx="900.18" cy="107.5" r="2.9" fill="#a4a4a4"/>
<circle cx="900.18" cy="109.5" r="2.9" fill="#a4a4a4"/>
<circle cx="900.18" cy="111.5" r="2.9" fill="#a4a4a4"/>
<circle cx="900.18" cy="113.5" r="2.9" fill="#a4a4a4"/>
<circle cx="900.18" cy="115.5" r="2.9" fill="#a4a4a4"/>
<circle cx="900.18" cy="117.5" r="2.9" fill="#a4a4a4"/>
<circle cx="900.18" cy="119.5" r="2.9" fill="#a4a4a4"/>
<circle cx="900.18" cy="121.5" r="2.9" fill="#a4a4a4"/>
<circle cx="900.18" cy="123.5" r="2.9" fill="#a4a4a4"/>
<circle cx="900.18" cy="125.6" r="2.9" fill="#a4a4a4"/>
<circle cx="900.18" cy="127.6" r="2.9" fill="#a4a4a4"/>
<circle cx="900.18" cy="129.6" r="2.9" fill="#a4a4a4"/>
<circle cx="900.18" cy="131.6" r="2.9" fill="#a4a4a4"/>
<circle cx="900.18" cy="133.6" r="2.9" fill="#a4a4a4"/>
<circle cx="900.18" cy="135.6" r="2.9" fill="#a4a4a4"/>
<circle cx="900.18" cy="137.6" r="2.9" fill="#a4a4a4"/>
<circle cx="900.18" cy="139.6" r="2.9" fill="#a4a4a4"/>
<circle cx="900.18" cy="141.6" r="2.9" fill="#a4a4a4"/>
<circle cx="900.18" cy="143.6" r="2.9" fill="#a4a4a4"/>
<circle cx="900.18" cy="153.7" r="2.9" fill="#a4a4a4"/>
<circle cx="900.18" cy="157.2" r="2.9" fill="#a4a4a4"/>
<line x1="932.85" y1="66.4" x2="932.85" y2="167.8" stroke="#1052a2" stroke-width="2"/>
<circle cx="932.25" cy="66.4" r="2.9" fill="#a4a4a4"/>
<circle cx="932.25" cy="79.7" r="2.9" fill="#a4a4a4"/>
<circle cx="932.25" cy="82.2" r="2.9" fill="#a4a4a4"/>
<circle cx="932.25" cy="84.8" r="2.9" fill="#a4a4a4"/>
<circle cx="932.25" cy="87.3" r="2.9" fill="#a4a4a4"/>
<circle cx="932.25" cy="100.0" r="2.9" fill="#a4a4a4"/>
<circle cx="932.25" cy="114.1" r="2.9" fill="#a4a4a4"/>
<circle cx="932.25" cy="116.2" r="2.9" fill="#a4a4a4"/>
<circle cx="932.25" cy="118.3" r="2.9" fill="#a4a4a4"/>
<circle cx="932.25" cy="120.3" r="2.9" fill="#a4a4a4"/>
<circle cx="932.25" cy="122.4" r="2.9" fill="#a4a4a4"/>
<circle cx="932.25" cy="124.5" r="2.9" fill="#a4a4a4"/>
<circle cx="932.25" cy="167.8" r="2.9" fill="#a4a4a4"/>
<line x1="964.92" y1="57.7" x2="964.92" y2="187.1" stroke="#1052a2" stroke-width="2"/>
<circle cx="964.32" cy="57.7" r="2.9" fill="#a4a4a4"/>
<circle cx="964.32" cy="74.5" r="2.9" fill="#a4a4a4"/>
<circle cx="964.32" cy="77.2" r="2.9" fill="#a4a4a4"/>
<circle cx="964.32" cy="80.0" r="2.9" fill="#a4a4a4"/>
<circle cx="964.32" cy="87.2" r="2.9" fill="#a4a4a4"/>
<circle cx="964.32" cy="89.5" r="2.9" fill="#a4a4a4"/>
<circle cx="964.32" cy="91.9" r="2.9" fill="#a4a4a4"/>
<circle cx="964.32" cy="111.7" r="2.9" fill="#a4a4a4"/>
<circle cx="964.32" cy="114.0" r="2.9" fill="#a4a4a4"/>
<circle cx="964.32" cy="116.3" r="2.9" fill="#a4a4a4"/>
<circle cx="964.32" cy="118.7" r="2.9" fill="#a4a4a4"/>
<circle cx="964.32" cy="121.0" r="2.9" fill="#a4a4a4"/>
<circle cx="964.32" cy="123.3" r="2.9" fill="#a4a4a4"/>
<circle cx="964.32" cy="154.2" r="2.9" fill="#a4a4a4"/>
<circle cx="964.32" cy="161.2" r="2.9" fill="#a4a4a4"/>
<circle cx="964.32" cy="187.1" r="2.9" fill="#a4a4a4"/>
<line x1="996.98" y1="67.6" x2="996.98" y2="143.2" stroke="#1052a2" stroke-width="2"/>
<circle cx="996.38" cy="67.6" r="2.9" fill="#a4a4a4"/>
<circle cx="996.38" cy="87.0" r="2.9" fill="#a4a4a4"/>
<circle cx="996.38" cy="95.3" r="2.9" fill="#a4a4a4"/>
<circle cx="996.38" cy="97.7" r="2.9" fill="#a4a4a4"/>
<circle cx="996.38" cy="100.0" r="2.9" fill="#a4a4a4"/>
<circle cx="996.38" cy="111.7" r="2.9" fill="#a4a4a4"/>
<circle cx="996.38" cy="118.2" r="2.9" fill="#a4a4a4"/>
<circle cx="996.38" cy="124.5" r="2.9" fill="#a4a4a4"/>
<circle cx="996.38" cy="129.9" r="2.9" fill="#a4a4a4"/>
<circle cx="996.38" cy="143.2" r="2.9" fill="#a4a4a4"/>
<line x1="1029.05" y1="27.2" x2="1029.05" y2="150.7" stroke="#1052a2" stroke-width="2"/>
<circle cx="1028.45" cy="27.2" r="2.9" fill="#a4a4a4"/>
<circle cx="1028.45" cy="39.9" r="2.9" fill="#a4a4a4"/>
<circle cx="1028.45" cy="56.4" r="2.9" fill="#a4a4a4"/>
<circle cx="1028.45" cy="62.7" r="2.9" fill="#a4a4a4"/>
<circle cx="1028.45" cy="90.6" r="2.9" fill="#a4a4a4"/>
<circle cx="1028.45" cy="100.0" r="2.9" fill="#a4a4a4"/>
<circle cx="1028.45" cy="116.4" r="2.9" fill="#a4a4a4"/>
<circle cx="1028.45" cy="122.7" r="2.9" fill="#a4a4a4"/>
<circle cx="1028.45" cy="135.0" r="2.9" fill="#a4a4a4"/>
<circle cx="1028.45" cy="150.7" r="2.9" fill="#a4a4a4"/>
<polyline points="98.53,159 130.60,172 162.67,153.7 194.73,160.5 226.80,162" fill="none" stroke="#1c4680" stroke-width="1.15"/>
<circle cx="98.53" cy="159" r="3.1" fill="#000"/>
<circle cx="130.60" cy="172" r="3.1" fill="#000"/>
<circle cx="162.67" cy="153.7" r="3.1" fill="#000"/>
<circle cx="194.73" cy="160.5" r="3.1" fill="#000"/>
<circle cx="226.80" cy="162" r="3.1" fill="#000"/>
<polyline points="258.86,153 290.93,155 323.00,154 355.06,155.3 387.13,155.8" fill="none" stroke="#1c4680" stroke-width="1.15"/>
<circle cx="258.86" cy="153" r="3.1" fill="#000"/>
<circle cx="290.93" cy="155" r="3.1" fill="#000"/>
<circle cx="323.00" cy="154" r="3.1" fill="#000"/>
<circle cx="355.06" cy="155.3" r="3.1" fill="#000"/>
<circle cx="387.13" cy="155.8" r="3.1" fill="#000"/>
<polyline points="419.19,154 451.26,156.8 483.33,152.9 515.39,159.6 547.46,165.2" fill="none" stroke="#1c4680" stroke-width="1.15"/>
<circle cx="419.19" cy="154" r="3.1" fill="#000"/>
<circle cx="451.26" cy="156.8" r="3.1" fill="#000"/>
<circle cx="483.33" cy="152.9" r="3.1" fill="#000"/>
<circle cx="515.39" cy="159.6" r="3.1" fill="#000"/>
<circle cx="547.46" cy="165.2" r="3.1" fill="#000"/>
<polyline points="579.52,156.2 611.59,155.8 643.65,152.9 675.72,161.4 707.79,164.6" fill="none" stroke="#1c4680" stroke-width="1.15"/>
<circle cx="579.52" cy="156.2" r="3.1" fill="#000"/>
<circle cx="611.59" cy="155.8" r="3.1" fill="#000"/>
<circle cx="643.65" cy="152.9" r="3.1" fill="#000"/>
<circle cx="675.72" cy="161.4" r="3.1" fill="#000"/>
<circle cx="707.79" cy="164.6" r="3.1" fill="#000"/>
<polyline points="739.85,156.2 771.92,148.8 803.99,157.7 836.05,144.9 868.12,155.8" fill="none" stroke="#1c4680" stroke-width="1.15"/>
<circle cx="739.85" cy="156.2" r="3.1" fill="#000"/>
<circle cx="771.92" cy="148.8" r="3.1" fill="#000"/>
<circle cx="803.99" cy="157.7" r="3.1" fill="#000"/>
<circle cx="836.05" cy="144.9" r="3.1" fill="#000"/>
<circle cx="868.12" cy="155.8" r="3.1" fill="#000"/>
<polyline points="900.18,99.6 932.25,108.7 964.32,106.5 996.38,104.2 1028.45,94.3" fill="none" stroke="#1c4680" stroke-width="1.15"/>
<circle cx="900.18" cy="99.6" r="3.1" fill="#000"/>
<circle cx="932.25" cy="108.7" r="3.1" fill="#000"/>
<circle cx="964.32" cy="106.5" r="3.1" fill="#000"/>
<circle cx="996.38" cy="104.2" r="3.1" fill="#000"/>
<circle cx="1028.45" cy="94.3" r="3.1" fill="#000"/>
<circle cx="258.86" cy="57.7" r="4.5" fill="#959595"/>
<line x1="82.5" y1="9" x2="82.5" y2="313" stroke="#808080" stroke-width="1"/>
<line x1="82.5" y1="235.5" x2="1044.5" y2="235.5" stroke="#808080" stroke-width="1"/>
<line x1="1044.5" y1="235" x2="1044.5" y2="313" stroke="#808080" stroke-width="1"/>
<line x1="242.5" y1="235.5" x2="242.5" y2="313" stroke="#808080" stroke-width="1"/>
<line x1="403.5" y1="235.5" x2="403.5" y2="287" stroke="#808080" stroke-width="1"/>
<line x1="563.5" y1="235.5" x2="563.5" y2="313" stroke="#808080" stroke-width="1"/>
<line x1="723.5" y1="235.5" x2="723.5" y2="313" stroke="#808080" stroke-width="1"/>
<line x1="884.5" y1="235.5" x2="884.5" y2="313" stroke="#808080" stroke-width="1"/>
<line x1="78" y1="47.5" x2="82.5" y2="47.5" stroke="#808080" stroke-width="1"/>
<text x="68" y="50.8" text-anchor="end" class="t12" textLength="28.2">1,000</text>
<line x1="78" y1="104.5" x2="82.5" y2="104.5" stroke="#808080" stroke-width="1"/>
<text x="68" y="108.3" text-anchor="end" class="t12" textLength="19.6">750</text>
<line x1="78" y1="162.5" x2="82.5" y2="162.5" stroke="#808080" stroke-width="1"/>
<text x="68" y="165.8" text-anchor="end" class="t12" textLength="19.6">500</text>
<line x1="78" y1="220.5" x2="82.5" y2="220.5" stroke="#808080" stroke-width="1"/>
<text x="68" y="223.3" text-anchor="end" class="t12" textLength="19.6">250</text>
<text x="98.53" y="261.7" text-anchor="middle" class="t12">A</text>
<text x="130.60" y="261.7" text-anchor="middle" class="t12">B</text>
<text x="162.67" y="261.7" text-anchor="middle" class="t12">C</text>
<text x="194.73" y="261.7" text-anchor="middle" class="t12">D</text>
<text x="226.80" y="261.7" text-anchor="middle" class="t12">E</text>
<text x="162.67" y="277.7" text-anchor="middle" class="t12">Montpellier</text>
<text x="258.86" y="261.7" text-anchor="middle" class="t12">A</text>
<text x="290.93" y="261.7" text-anchor="middle" class="t12">B</text>
<text x="323.00" y="261.7" text-anchor="middle" class="t12">C</text>
<text x="355.06" y="261.7" text-anchor="middle" class="t12">D</text>
<text x="387.13" y="261.7" text-anchor="middle" class="t12">E</text>
<text x="323.00" y="277.7" text-anchor="middle" class="t12">Montpellier</text>
<text x="419.19" y="261.7" text-anchor="middle" class="t12">A</text>
<text x="451.26" y="261.7" text-anchor="middle" class="t12">B</text>
<text x="483.33" y="261.7" text-anchor="middle" class="t12">C</text>
<text x="515.39" y="261.7" text-anchor="middle" class="t12">D</text>
<text x="547.46" y="261.7" text-anchor="middle" class="t12">E</text>
<text x="483.33" y="277.7" text-anchor="middle" class="t12">Saint-Quentin</text>
<text x="579.52" y="261.7" text-anchor="middle" class="t12">A</text>
<text x="611.59" y="261.7" text-anchor="middle" class="t12">B</text>
<text x="643.65" y="261.7" text-anchor="middle" class="t12">C</text>
<text x="675.72" y="261.7" text-anchor="middle" class="t12">D</text>
<text x="707.79" y="261.7" text-anchor="middle" class="t12">E</text>
<text x="643.65" y="277.7" text-anchor="middle" class="t12">Saint-Quentin</text>
<text x="739.85" y="261.7" text-anchor="middle" class="t12">A</text>
<text x="771.92" y="261.7" text-anchor="middle" class="t12">B</text>
<text x="803.99" y="261.7" text-anchor="middle" class="t12">C</text>
<text x="836.05" y="261.7" text-anchor="middle" class="t12">D</text>
<text x="868.12" y="261.7" text-anchor="middle" class="t12">E</text>
<text x="803.99" y="277.7" text-anchor="middle" class="t12">Saint-Quentin</text>
<text x="900.18" y="261.7" text-anchor="middle" class="t12">A</text>
<text x="932.25" y="261.7" text-anchor="middle" class="t12">B</text>
<text x="964.32" y="261.7" text-anchor="middle" class="t12">C</text>
<text x="996.38" y="261.7" text-anchor="middle" class="t12">D</text>
<text x="1028.45" y="261.7" text-anchor="middle" class="t12">E</text>
<text x="964.32" y="277.7" text-anchor="middle" class="t12">Montpellier</text>
<text x="162.67" y="303.5" text-anchor="middle" class="t12" textLength="64.6">Credit Cards</text>
<text x="403.16" y="303.5" text-anchor="middle" class="t12">Individual accounts</text>
<text x="643.66" y="303.5" text-anchor="middle" class="t12">New account</text>
<text x="803.99" y="303.5" text-anchor="middle" class="t12">Queries</text>
<text x="964.32" y="303.5" text-anchor="middle" class="t12" textLength="94.2">Technical Support</text>
<text x="564" y="347.3" text-anchor="middle" class="t14" textLength="258.3">Request/Call Centre/Customer Category</text>
<text transform="translate(26.9,122) rotate(-90)" text-anchor="middle" class="t14" textLength="62.5">Durations</text>
<defs><filter id="sh" x="-10%" y="-10%" width="130%" height="130%"><feGaussianBlur in="SourceAlpha" stdDeviation="1"/><feOffset dx="1" dy="1.2" result="b"/><feComponentTransfer><feFuncA type="linear" slope="0.35"/></feComponentTransfer><feMerge><feMergeNode/><feMergeNode in="SourceGraphic"/></feMerge></filter></defs>
<g filter="url(#sh)"><path d="M185,74.5 L252,74.5 L258,68.5 L264,74.5 L333.5,74.5 Q335.5,74.5 335.5,76.5 L335.5,174.8 Q335.5,176.8 333.5,176.8 L185,176.8 Q183,176.8 183,174.8 L183,76.5 Q183,74.5 185,74.5 Z" fill="#f2f2f2" stroke="#c2c2c2" stroke-width="1"/></g>
<text x="193.6" y="95.5" class="t10" textLength="132.5">Request = Individual accounts</text>
<text x="193.6" y="110.6" class="t10">Call Centre = Montpellier</text>
<text x="193.6" y="125.5" class="t10">Customer Category = A</text>
<circle cx="197.9" cy="142.7" r="3.8" fill="#999"/>
<text x="208.6" y="146.9" class="t12b" textLength="83.4">Durations = 951</text>
<g stroke="#333" stroke-width="0.9" fill="none" stroke-linecap="round"><path d="M195.8,155.3 L193.8,157"/><path d="M196.1,157.3 L193.4,159.9"/><path d="M195.3,158.3 L195.3,163.6"/><path d="M197.6,155.6 L202.1,155.6"/><path d="M197,158.5 L202.8,158.5"/><path d="M200.4,158.5 L200.4,163.1 Q200.4,163.6 199.6,163.6 L198.5,163.4"/></g>
<text x="206.6" y="162.9" class="t10" textLength="15.4">131</text>
<path transform="translate(257.2,59.2)" d="M0,0 L0,16.2 L3.6,12.9 L6.5,18.2 L9.1,17.1 L6.9,11.9 L11.7,11.6 Z" fill="#fff" stroke="#000" stroke-width="1.15" stroke-linejoin="miter"/>
<g stroke="#2e2e2e" stroke-width="1" fill="none"><rect x="10.3" y="383.4" width="8.2" height="8.9" stroke="#3d3f9a"/><path d="M11.6,386.4 L17.3,386.4"/><path d="M14.4,384.6 L14.4,387.4 Q13.8,389.6 12.2,390.9"/><path d="M14.6,387.6 Q15.8,389.6 17.3,390.9"/><path d="M21.7,384.4 L28.2,384.4 L25.4,386.1"/><path d="M20.2,388.4 L29.7,388.4"/><path d="M25.3,386 L25.3,391.6 Q25.3,392.4 24.3,392.3 L23.2,392"/></g>
<line x1="9.2" y1="410.6" x2="24.8" y2="410.6" stroke="#b77d7d" stroke-width="2"/>
<text x="30" y="414" class="t11" textLength="52">Call Centre</text>
</svg>
</body></html>
